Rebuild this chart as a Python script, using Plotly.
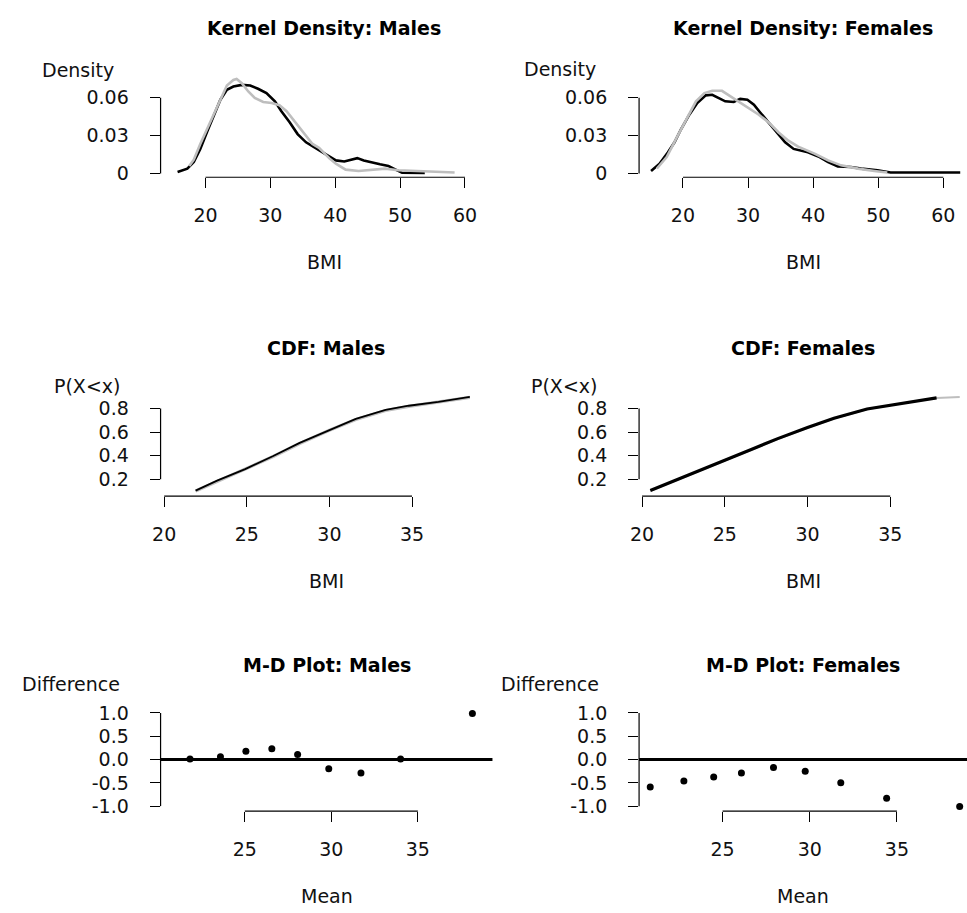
import plotly.graph_objects as go

W, H = 967, 913

# ---- Kernel density of BMI: observed (black) and fitted (grey) ----
male_kd_obs_bmi = [15.7, 17.2, 18.2, 19.2, 20.3, 21.3, 22.3, 23.3, 24.3, 25.6, 26.9, 28.1, 29.4,
                   30.7, 31.7, 33.0, 34.2, 35.5, 36.8, 38.0, 38.6, 40.1, 41.4, 42.4, 43.4, 44.4,
                   45.7, 46.9, 48.2, 49.3, 50.3, 53.8]
male_kd_obs = [0.0013, 0.0039, 0.0091, 0.0195, 0.0337, 0.0467, 0.0584, 0.0662, 0.0688, 0.0701,
               0.0696, 0.0670, 0.0636, 0.0571, 0.0493, 0.0403, 0.0312, 0.0247, 0.0208, 0.0169,
               0.0150, 0.0104, 0.0096, 0.0109, 0.0122, 0.0104, 0.0086, 0.0073, 0.0060, 0.0030,
               0.0006, 0.0005]
male_kd_fit_bmi = [17.5, 18.2, 19.2, 20.8, 22.3, 23.3, 24.3, 24.8, 25.6, 26.6, 27.6, 28.9, 30.2,
                   31.4, 32.5, 33.5, 34.5, 35.5, 36.5, 37.5, 39.1, 40.1, 41.6, 43.6, 45.7, 47.7,
                   49.7, 52.3, 54.8, 58.4]
male_kd_fit = [0.0060, 0.0110, 0.0234, 0.0415, 0.0597, 0.0696, 0.0740, 0.0748, 0.0714, 0.0649,
               0.0597, 0.0566, 0.0558, 0.0540, 0.0493, 0.0428, 0.0364, 0.0298, 0.0234, 0.0203,
               0.0120, 0.0078, 0.0031, 0.0021, 0.0031, 0.0039, 0.0026, 0.0021, 0.0013, 0.0008]

female_kd_obs_bmi = [15.1, 16.4, 17.7, 18.7, 19.7, 21.0, 22.2, 23.5, 24.5, 25.5, 26.5, 27.8, 28.8,
                     29.9, 30.9, 31.9, 33.2, 34.4, 35.7, 37.0, 38.2, 39.2, 40.8, 42.3, 43.8, 45.8,
                     47.4, 49.9, 51.9, 62.6]
female_kd_obs = [0.0021, 0.0078, 0.0169, 0.0247, 0.0350, 0.0467, 0.0558, 0.0618, 0.0623, 0.0597,
                 0.0571, 0.0566, 0.0590, 0.0584, 0.0545, 0.0481, 0.0403, 0.0325, 0.0247, 0.0195,
                 0.0180, 0.0169, 0.0135, 0.0091, 0.0057, 0.0052, 0.0039, 0.0026, 0.0008, 0.0008]
female_kd_fit_bmi = [16.0, 17.5, 19.0, 20.5, 22.0, 23.3, 24.5, 26.0, 27.3, 28.6, 30.1, 31.6, 33.2,
                     34.7, 36.2, 37.7, 40.3, 42.3, 44.3, 46.9, 49.4, 51.4]
female_kd_fit = [0.0040, 0.0130, 0.0280, 0.0430, 0.0571, 0.0636, 0.0654, 0.0654, 0.0610, 0.0566,
                 0.0520, 0.0467, 0.0403, 0.0325, 0.0260, 0.0213, 0.0156, 0.0104, 0.0065, 0.0039,
                 0.0021, 0.0008]

# ---- Cumulative distribution P(X<x) ----
male_cdf_bmi = [21.9, 23.2, 24.9, 26.6, 28.2, 30.0, 31.6, 33.4, 34.8, 36.6, 38.5]
male_cdf_obs = [0.103, 0.187, 0.285, 0.396, 0.508, 0.619, 0.711, 0.787, 0.823, 0.856, 0.898]
male_cdf_fit = [0.100, 0.182, 0.282, 0.392, 0.503, 0.615, 0.707, 0.783, 0.818, 0.853, 0.894]

female_cdf_bmi = [20.5, 22.0, 23.6, 25.0, 26.6, 28.2, 30.0, 31.6, 33.6, 35.6, 37.8]
female_cdf_obs = [0.103, 0.187, 0.276, 0.360, 0.452, 0.544, 0.639, 0.717, 0.795, 0.843, 0.890]
female_cdf_fit_bmi = [20.5, 22.0, 23.6, 25.0, 26.6, 28.2, 30.0, 31.6, 33.6, 35.6, 37.8, 39.2]
female_cdf_fit = [0.100, 0.184, 0.273, 0.357, 0.449, 0.541, 0.636, 0.714, 0.792, 0.841, 0.888, 0.898]

# ---- Mean-difference points ----
male_md_mean = [21.83, 23.59, 25.06, 26.56, 28.05, 29.85, 31.71, 34.00, 38.15]
male_md_diff = [0.01, 0.06, 0.18, 0.23, 0.11, -0.20, -0.29, 0.01, 0.99]
female_md_mean = [20.85, 22.78, 24.49, 26.08, 27.92, 29.74, 31.78, 34.41, 38.60]
female_md_diff = [-0.59, -0.46, -0.375, -0.29, -0.17, -0.25, -0.50, -0.83, -1.01]

# ---- axis ticks ----
kd_xticks = [20, 30, 40, 50, 60]
kd_yticks = [0, 0.03, 0.06]
kd_ytext = ["0", "0.03", "0.06"]
cdf_xticks = [20, 25, 30, 35]
cdf_yticks = [0.2, 0.4, 0.6, 0.8]
cdf_ytext = ["0.2", "0.4", "0.6", "0.8"]
md_xticks = [25, 30, 35]
md_yticks = [-1.0, -0.5, 0.0, 0.5, 1.0]
md_ytext = ["-1.0", "-0.5", "0.0", "0.5", "1.0"]

BLACK = "#000000"
GREY = "#bebebe"
FONT = "DejaVu Sans"
TICK_FONT = dict(family=FONT, size=19, color="#111111")

# panel layout in pixels: (left, right) and (top, bottom) of each plot region,
# plus the vertical pixel position of the panel title
panels = [
    dict(title="Kernel Density: Males", xpx=(153, 483), ypx=(67.8, 173.7), ty=22,
         xr=(13.08, 63.47), yr=(-0.00288, 0.0796), xt=kd_xticks, yt=kd_yticks, ytt=kd_ytext,
         xlab="BMI", ylab="Density", ylab_pos=(70, 65)),
    dict(title="Kernel Density: Females", xpx=(636, 967), ypx=(67.8, 173.7), ty=22,
         xr=(13.26, 63.64), yr=(-0.00288, 0.0796), xt=kd_xticks, yt=kd_yticks, ytt=kd_ytext,
         xlab="BMI", ylab="Density", ylab_pos=(556, 64)),
    dict(title="CDF: Males", xpx=(153, 487), ypx=(392, 497.3), ty=347,
         xr=(19.78, 39.81), yr=(0.0552, 0.936), xt=cdf_xticks, yt=cdf_yticks, ytt=cdf_ytext,
         xlab="BMI", ylab="P(X&lt;x)", ylab_pos=(79, 385)),
    dict(title="CDF: Females", xpx=(636, 967), ypx=(392, 497.3), ty=347,
         xr=(19.82, 39.64), yr=(0.0552, 0.936), xt=cdf_xticks, yt=cdf_yticks, ytt=cdf_ytext,
         xlab="BMI", ylab="P(X&lt;x)", ylab_pos=(560, 385)),
    dict(title="M-D Plot: Males", xpx=(153, 488), ypx=(712, 816.7), ty=669,
         xr=(20.13, 39.31), yr=(-1.106, 1.11), xt=md_xticks, yt=md_yticks, ytt=md_ytext,
         xlab="Mean", ylab="Difference", ylab_pos=(63, 688)),
    dict(title="M-D Plot: Females", xpx=(636, 967), ypx=(712, 816.7), ty=669,
         xr=(20.21, 39.02), yr=(-1.106, 1.11), xt=md_xticks, yt=md_yticks, ytt=md_ytext,
         xlab="Mean", ylab="Difference", ylab_pos=(546, 688)),
]

fig = go.Figure()


def axis_ids(i):
    s = "" if i == 0 else str(i + 1)
    return "x" + s, "y" + s


def line(i, x, y, color, width):
    xa, ya = axis_ids(i)
    fig.add_trace(go.Scatter(x=x, y=y, mode="lines", xaxis=xa, yaxis=ya,
                             line=dict(color=color, width=width), showlegend=False,
                             hoverinfo="skip"))


# density curves
line(0, male_kd_obs_bmi, male_kd_obs, BLACK, 2.6)
line(0, male_kd_fit_bmi, male_kd_fit, GREY, 2.6)
line(1, female_kd_obs_bmi, female_kd_obs, BLACK, 2.6)
line(1, female_kd_fit_bmi, female_kd_fit, GREY, 2.6)

# cumulative distributions
line(2, male_cdf_bmi, male_cdf_fit, GREY, 3.2)
line(2, male_cdf_bmi, male_cdf_obs, BLACK, 1.8)
line(3, female_cdf_fit_bmi, female_cdf_fit, GREY, 2.0)
line(3, female_cdf_bmi, female_cdf_obs, BLACK, 3.2)

# mean-difference points
for i, mx, dy in [(4, male_md_mean, male_md_diff), (5, female_md_mean, female_md_diff)]:
    xa, ya = axis_ids(i)
    fig.add_trace(go.Scatter(x=mx, y=dy, mode="markers", xaxis=xa, yaxis=ya,
                             marker=dict(color=BLACK, size=7), showlegend=False,
                             hoverinfo="skip"))

layout = dict(
    width=W, height=H, margin=dict(l=0, r=0, t=0, b=0),
    paper_bgcolor="white", plot_bgcolor="white", showlegend=False,
    font=dict(family=FONT, color="#111111"),
)
shapes = []
annotations = []

for i, p in enumerate(panels):
    s = "" if i == 0 else str(i + 1)
    xa, ya = axis_ids(i)
    x0, x1 = p["xpx"]
    yt, yb = p["ypx"]
    common = dict(showgrid=False, zeroline=False, showline=False, ticks="outside",
                  ticklen=10, tickwidth=1.2, tickcolor=BLACK, tickfont=TICK_FONT,
                  fixedrange=True)
    layout["xaxis" + s] = dict(domain=[x0 / W, min(x1 / W, 1.0)], range=list(p["xr"]),
                               anchor=ya, tickmode="array", tickvals=p["xt"],
                               ticktext=[str(v) for v in p["xt"]],
                               ticklabelstandoff=11, **common)
    layout["yaxis" + s] = dict(domain=[1 - yb / H, 1 - yt / H], range=list(p["yr"]),
                               anchor=xa, tickmode="array", tickvals=p["yt"],
                               ticktext=p["ytt"], ticklabelstandoff=17, **common)
    # axis lines running from the first to the last tick
    shapes.append(dict(type="line", xref=xa, yref=ya + " domain",
                       x0=p["xt"][0], x1=p["xt"][-1], y0=0, y1=0,
                       line=dict(color=BLACK, width=1.2)))
    shapes.append(dict(type="line", xref=xa + " domain", yref=ya,
                       x0=0, x1=0, y0=p["yt"][0], y1=p["yt"][-1],
                       line=dict(color=BLACK, width=1.2)))
    cx = (x0 + x1) / 2
    annotations.append(dict(text="<b>%s</b>" % p["title"], x=cx / W, y=1 - p["ty"] / H,
                            xref="paper", yref="paper", showarrow=False,
                            xanchor="center", yanchor="middle",
                            font=dict(family=FONT, size=19, color=BLACK)))
    annotations.append(dict(text=p["xlab"], x=cx / W, y=1 - (yb + 86) / H,
                            xref="paper", yref="paper", showarrow=False,
                            xanchor="center", yanchor="middle", font=TICK_FONT))
    lx, ly = p["ylab_pos"]
    annotations.append(dict(text=p["ylab"], x=lx / W, y=1 - ly / H,
                            xref="paper", yref="paper", showarrow=False,
                            xanchor="center", yanchor="middle", font=TICK_FONT))

# zero reference line in the mean-difference panels
for i in (4, 5):
    xa, ya = axis_ids(i)
    shapes.append(dict(type="line", xref=xa + " domain", yref=ya, x0=0, x1=1, y0=0, y1=0,
                       line=dict(color=BLACK, width=3)))

layout["shapes"] = shapes
layout["annotations"] = annotations
fig.update_layout(**layout)
fig.write_html("out.html")
